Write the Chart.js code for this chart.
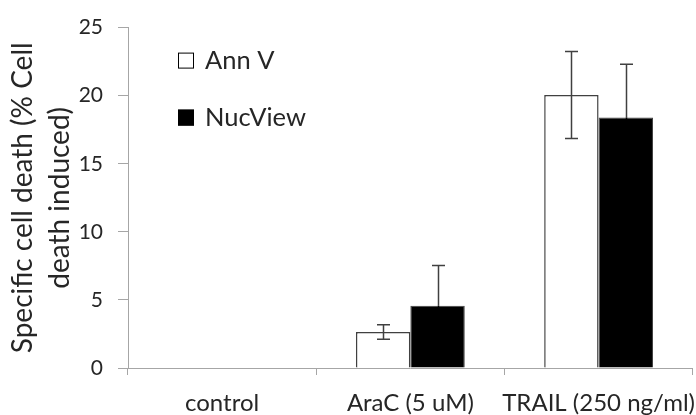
<!DOCTYPE html>
<html><head><meta charset="utf-8">
<script src="https://cdn.jsdelivr.net/npm/chart.js@4"></script>
<style>
html,body{margin:0;padding:0;background:#fff;overflow:hidden;width:696px;height:415px;}
#wrap{position:relative;width:712px;height:415px;}
</style></head><body>
<div id="wrap"><canvas id="c" width="712" height="415"></canvas></div>
<script>
// ---- data ----
const categories = ['control', 'AraC (5 uM)', 'TRAIL (250 ng/ml)'];
const seriesNames = ['Ann V', 'NucView'];
const annV = [0, 2.65, 20.05];
const annVErr = [0, 0.53, 3.2];
const nucView = [0, 4.57, 18.4];
const nucViewErr = [0, 2.95, 3.9];
const yTickMin = 0, yTickMax = 25, yTickStep = 5;
const yTitle = ['Specific cell death (% Cell', 'death induced)'];

const FONT = 'Lato, Carlito, Calibri, sans-serif';
const TEXT = '#262626';
const AXIS = '#a6a6a6';

const errorBars = {
  id: 'errorBars',
  afterDatasetsDraw(chart) {
    const ctx = chart.ctx, y = chart.scales.y;
    ctx.save();
    ctx.lineWidth = 1.5;
    chart.data.datasets.forEach((ds, di) => {
      const meta = chart.getDatasetMeta(di);
      meta.data.forEach((bar, i) => {
        const e = ds.errors[i];
        if (!e) return;
        const v = ds.data[i];
        const x = Math.round(bar.x) + 0.5;
        const yv = y.getPixelForValue(v);
        const yt = y.getPixelForValue(v + e), yb = y.getPixelForValue(v - e);
        const cap = 6.5;
        // part above the bar top
        ctx.strokeStyle = ds.errorColor;
        ctx.beginPath();
        ctx.moveTo(x, yt); ctx.lineTo(x, yv);
        ctx.moveTo(x - cap, yt); ctx.lineTo(x + cap, yt);
        ctx.stroke();
        // part inside the bar
        ctx.strokeStyle = ds.errorInnerColor;
        ctx.beginPath();
        ctx.moveTo(x, yv); ctx.lineTo(x, yb);
        ctx.moveTo(x - cap, yb); ctx.lineTo(x + cap, yb);
        ctx.stroke();
      });
    });
    ctx.restore();
  }
};

const boxLegend = {
  id: 'boxLegend',
  afterDraw(chart) {
    const ctx = chart.ctx, a = chart.chartArea;
    const x0 = a.left + 50, y0 = a.top + 25, size = 16, gap = 57;
    ctx.save();
    ctx.font = '25.5px ' + FONT;
    ctx.textBaseline = 'alphabetic';
    ctx.textAlign = 'left';
    chart.data.datasets.forEach((ds, i) => {
      const by = y0 + i * gap;
      ctx.fillStyle = ds.backgroundColor;
      ctx.fillRect(x0, by, size, size);
      ctx.strokeStyle = '#000';
      ctx.lineWidth = 1;
      ctx.strokeRect(x0 + 0.5, by + 0.5, size - 1, size - 1);
      ctx.fillStyle = TEXT;
      ctx.fillText(ds.label, x0 + 27, by + size);
    });
    ctx.restore();
  }
};

new Chart(document.getElementById('c'), {
  type: 'bar',
  data: {
    labels: categories,
    datasets: [
      { label: seriesNames[0], data: annV, errors: annVErr, errorColor: '#404040', errorInnerColor: '#404040',
        backgroundColor: '#ffffff', borderColor: '#404040', borderWidth: 1.5 },
      { label: seriesNames[1], data: nucView, errors: nucViewErr, errorColor: '#404040', errorInnerColor: '#000000',
        backgroundColor: '#000000', borderColor: '#404040', borderWidth: 1 }
    ]
  },
  options: {
    responsive: false,
    devicePixelRatio: 1,
    animation: false,
    categoryPercentage: 0.578,
    barPercentage: 1.0,
    layout: { padding: { top: 23, right: 18, bottom: 0, left: 0 } },
    plugins: { legend: { display: false }, tooltip: { enabled: false } },
    scales: {
      x: {
        afterFit: s => { s.height = 47; },
        grid: { drawOnChartArea: false, tickLength: 7, color: AXIS, offset: true },
        border: { color: AXIS, width: 1 },
        ticks: { font: { family: FONT, size: 24 }, color: TEXT, padding: 14, maxRotation: 0, autoSkip: false }
      },
      y: {
        min: yTickMin, max: yTickMax,
        afterFit: s => { s.width = 128; },
        grid: { drawOnChartArea: false, tickLength: 10, color: AXIS },
        border: { color: AXIS, width: 1 },
        ticks: { stepSize: yTickStep, font: { family: FONT, size: 21 }, color: TEXT, padding: 15 },
        title: { display: true, text: yTitle, font: { family: FONT, size: 28, lineHeight: 1.3 }, color: TEXT, padding: { top: 5, bottom: 0 } }
      }
    }
  },
  plugins: [errorBars, boxLegend]
});
</script>
</body></html>
